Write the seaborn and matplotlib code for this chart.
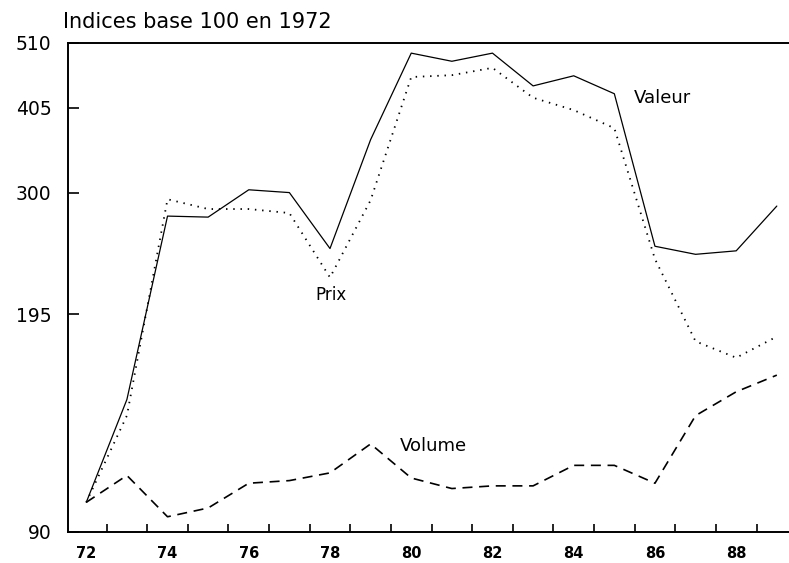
import matplotlib
matplotlib.use("Agg")
import matplotlib.pyplot as plt
import seaborn as sns
import pandas as pd

# Indices base 100 en 1972
years = list(range(72, 90))
valeur = [100, 144, 276, 275, 303, 300, 246, 362, 492, 478, 492, 438, 454, 426, 248, 241, 244, 286]
prix = [100, 136, 293, 283, 283, 279, 222, 292, 452, 455, 467, 420, 402, 377, 237, 177, 167, 180]
volume = [100, 110, 95, 98, 107, 108, 111, 123, 109, 105, 106, 106, 114, 114, 107, 136, 148, 157]

y_ticks = [90, 195, 300, 405, 510]
x_labels = [72, 74, 76, 78, 80, 82, 84, 86, 88]

df = pd.DataFrame({"annee": years, "Valeur": valeur, "Prix": prix, "Volume": volume})

sns.set_style("ticks")
plt.rcParams["font.family"] = ["DejaVu Sans"]
plt.rcParams["text.color"] = "black"
plt.rcParams["xtick.color"] = "black"
plt.rcParams["ytick.color"] = "black"
plt.rcParams["axes.labelcolor"] = "black"

fig = plt.figure(figsize=(7.89, 5.63), dpi=100)
ax = fig.add_axes([68 / 789, 1 - 532 / 563, 1 - 68 / 789, (532 - 43) / 563])

sns.lineplot(data=df, x="annee", y="Valeur", ax=ax, color="black", linewidth=0.9)
sns.lineplot(data=df, x="annee", y="Prix", ax=ax, color="black", linewidth=1.3,
             linestyle=(0, (0.8, 3.2)))
sns.lineplot(data=df, x="annee", y="Volume", ax=ax, color="black", linewidth=1.2,
             linestyle=(0, (6, 4)))

ax.set_yscale("log")
ax.set_ylim(90, 510)
ax.set_xlim(71.55, 89.3)
ax.set_yticks(y_ticks)
ax.set_yticklabels([str(v) for v in y_ticks], fontsize=13.5)
ax.minorticks_off()
ax.tick_params(axis="y", direction="in", length=8, width=1.2, pad=12)

# labels on even years, tick marks between the years
ax.set_xticks(x_labels)
ax.set_xticklabels([str(v) for v in x_labels], fontsize=10.5, fontweight="bold")
ax.set_xticks([y + 0.5 for y in years[:-1]], minor=True)
ax.tick_params(axis="x", which="major", length=0, pad=10)
ax.tick_params(axis="x", which="minor", direction="in", length=6, width=1.2)

ax.set_xlabel("")
ax.set_ylabel("")
for side in ["left", "bottom", "top"]:
    ax.spines[side].set_linewidth(1.4)
    ax.spines[side].set_color("black")
ax.spines["right"].set_visible(False)

ax.text(85.47, 412, "Valeur", fontsize=13, va="baseline", ha="left")
ax.text(78.03, 205, "Prix", fontsize=12, va="baseline", ha="center")
ax.text(79.73, 120, "Volume", fontsize=13, va="baseline", ha="left")

fig.text(63 / 789, 1 - 28 / 563, "Indices base 100 en 1972", fontsize=15, va="baseline", ha="left")

fig.savefig("out.png", dpi=100)
